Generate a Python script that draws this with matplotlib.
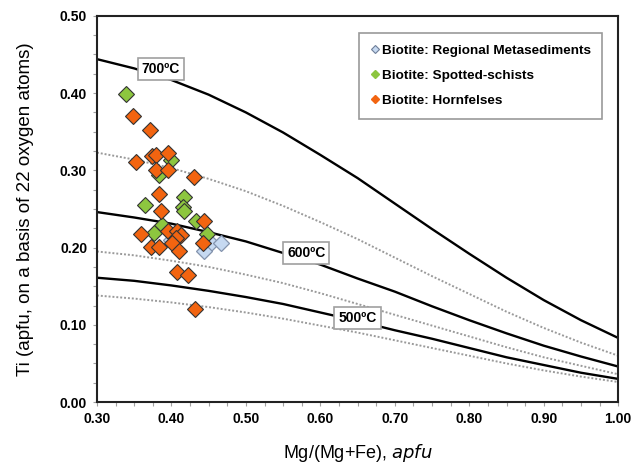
import matplotlib
matplotlib.use("Agg")
import matplotlib.pyplot as plt
from matplotlib.lines import Line2D
from matplotlib.ticker import MultipleLocator, FormatStrFormatter

plt.rcParams['font.family'] = ['Liberation Sans', 'DejaVu Sans']

# Isotherm curves, Ti read at each Mg/(Mg+Fe) step
xmg = [0.30, 0.35, 0.40, 0.45, 0.50, 0.55, 0.60, 0.65, 0.70, 0.75, 0.80, 0.85, 0.90, 0.95, 1.00]
ti_700 = [0.444, 0.432, 0.417, 0.398, 0.375, 0.349, 0.320, 0.290, 0.257, 0.224, 0.192, 0.161, 0.132, 0.106, 0.083]
ti_650 = [0.323, 0.314, 0.303, 0.289, 0.273, 0.254, 0.233, 0.211, 0.187, 0.163, 0.140, 0.117, 0.096, 0.077, 0.060]
ti_600 = [0.246, 0.239, 0.231, 0.220, 0.208, 0.193, 0.178, 0.160, 0.143, 0.124, 0.106, 0.089, 0.073, 0.059, 0.046]
ti_550 = [0.195, 0.190, 0.183, 0.175, 0.165, 0.154, 0.141, 0.127, 0.113, 0.099, 0.085, 0.071, 0.058, 0.047, 0.036]
ti_500 = [0.161, 0.157, 0.151, 0.144, 0.136, 0.127, 0.116, 0.105, 0.093, 0.082, 0.070, 0.058, 0.048, 0.038, 0.030]
ti_450 = [0.138, 0.134, 0.129, 0.123, 0.116, 0.108, 0.099, 0.090, 0.080, 0.070, 0.060, 0.050, 0.041, 0.033, 0.026]

# Biotite analyses
reg_x = [0.453, 0.466, 0.444, 0.399]
reg_y = [0.206, 0.206, 0.195, 0.210]

spot_x = [0.339, 0.399, 0.384, 0.417, 0.364, 0.416, 0.417, 0.388, 0.433, 0.377, 0.448]
spot_y = [0.399, 0.313, 0.294, 0.266, 0.255, 0.252, 0.247, 0.229, 0.234, 0.219, 0.218]

horn_x = [0.348, 0.371, 0.352, 0.374, 0.379, 0.395, 0.379, 0.395, 0.430, 0.383, 0.386, 0.444, 0.359,
          0.395, 0.408, 0.413, 0.406, 0.401, 0.410, 0.372, 0.383, 0.442, 0.408, 0.422, 0.431]
horn_y = [0.370, 0.352, 0.311, 0.318, 0.320, 0.322, 0.300, 0.300, 0.292, 0.270, 0.248, 0.234, 0.218,
          0.221, 0.222, 0.216, 0.212, 0.206, 0.195, 0.201, 0.201, 0.206, 0.169, 0.165, 0.120]

fig = plt.figure(figsize=(6.42, 4.67), dpi=100)
ax = fig.add_axes([0.151, 0.139, 0.812, 0.827])

# isotherms
for ti in (ti_650, ti_550, ti_450):
    ax.plot(xmg, ti, color="#9a9a9a", lw=1.4, ls=(0, (1, 1)))
for ti in (ti_700, ti_600, ti_500):
    ax.plot(xmg, ti, color="black", lw=1.7)

# points
ax.plot(reg_x, reg_y, "D", ms=8, mfc="#c6d9f1", mec="#8393ad", mew=0.9, ls="none")
ax.plot(spot_x, spot_y, "D", ms=8, mfc="#8dc63f", mec="#333333", mew=0.8, ls="none")
ax.plot(horn_x, horn_y, "D", ms=8, mfc="#f26410", mec="#333333", mew=0.8, ls="none")

box = dict(boxstyle="square,pad=0.3", fc="white", ec="#a0a0a0", lw=1.2)
ax.text(0.386, 0.431, "700ºC", ha="center", va="center", fontsize=10, fontweight="bold", bbox=box)
ax.text(0.581, 0.193, "600ºC", ha="center", va="center", fontsize=10, fontweight="bold", bbox=box)
ax.text(0.650, 0.109, "500ºC", ha="center", va="center", fontsize=10, fontweight="bold", bbox=box)

ax.set_xlim(0.30, 1.00)
ax.set_ylim(0.0, 0.50)
ax.xaxis.set_major_locator(MultipleLocator(0.1))
ax.xaxis.set_minor_locator(MultipleLocator(0.025))
ax.yaxis.set_major_locator(MultipleLocator(0.1))
ax.yaxis.set_minor_locator(MultipleLocator(0.025))
ax.xaxis.set_major_formatter(FormatStrFormatter("%.2f"))
ax.yaxis.set_major_formatter(FormatStrFormatter("%.2f"))
ax.tick_params(which="both", direction="out", color="#a0a0a0", width=0.8, length=3)
ax.tick_params(axis="both", labelsize=10, pad=4)
for lab in ax.get_xticklabels() + ax.get_yticklabels():
    lab.set_fontweight("bold")
for sp in ax.spines.values():
    sp.set_linewidth(1.5)
    sp.set_color("#222222")

ax.set_ylabel("Ti (apfu, on a basis of 22 oxygen atoms)", fontsize=13.5, labelpad=19)
ax.set_xlabel("Mg/(Mg+Fe), $\\it{apfu}$", fontsize=13, labelpad=12)

handles = [
    Line2D([], [], marker="D", ls="none", ms=4.5, mfc="#c6d9f1", mec="#6f7f99", mew=0.8),
    Line2D([], [], marker="D", ls="none", ms=4.5, mfc="#8dc63f", mec="#8dc63f"),
    Line2D([], [], marker="D", ls="none", ms=4.5, mfc="#f26410", mec="#f26410"),
]
labels = ["Biotite: Regional Metasediments", "Biotite: Spotted-schists", "Biotite: Hornfelses"]
leg = ax.legend(handles, labels, loc="upper right", bbox_to_anchor=(0.969, 0.956),
                prop={"weight": "bold", "size": 9.7}, frameon=True, fancybox=False,
                edgecolor="#808080", handlelength=0.6, handletextpad=0.2,
                labelspacing=0.95, borderpad=0.85, borderaxespad=0)
leg.get_frame().set_linewidth(1.2)

fig.savefig("out.png", dpi=100)
